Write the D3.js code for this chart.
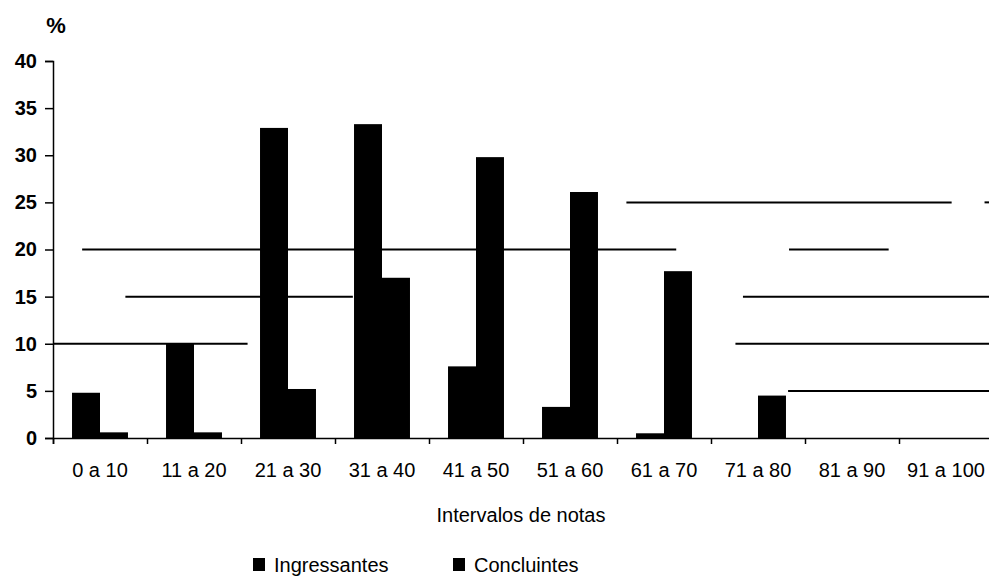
<!DOCTYPE html>
<html>
<head>
<meta charset="utf-8">
<script src="https://cdn.jsdelivr.net/npm/d3@7"></script>
<style>
  body { margin: 0; background: #fff; }
  svg { display: block; font-family: "Liberation Sans", Arial, sans-serif; }
</style>
</head>
<body>
<div id="chart"></div>
<script>
// categories and series
var categories = ["0 a 10", "11 a 20", "21 a 30", "31 a 40", "41 a 50",
                  "51 a 60", "61 a 70", "71 a 80", "81 a 90", "91 a 100"];
var seriesNames = ["Ingressantes", "Concluintes"];
var ingressantes = [4.8, 10, 32.9, 33.3, 7.6, 3.3, 0.5, 0, 0, 0];
var concluintes = [0.6, 0.6, 5.2, 17, 29.8, 26.1, 17.7, 4.5, 0, 0];
var yTicks = [0, 5, 10, 15, 20, 25, 30, 35, 40];
// what is left of the gridlines in the scan: [value, from, to] in category units
var gridPieces = [
  [5, 7.82, 10],
  [10, 0, 2.07], [10, 7.26, 10],
  [15, 0.77, 3.19], [15, 7.34, 10],
  [20, 0.31, 6.63], [20, 7.83, 8.89],
  [25, 6.10, 9.56], [25, 9.91, 10]
];

(function () {
  var W = 989, H = 576;
  var plotLeft = 53, plotRight = 993, plotTop = 61, plotBottom = 438;

  var svg = d3.select("#chart").append("svg")
    .attr("width", W)
    .attr("height", H);

  var x = d3.scaleBand().domain(categories).range([plotLeft, plotRight]).padding(0);
  var xc = d3.scaleLinear().domain([0, categories.length]).range([plotLeft, plotRight]);
  var xs = d3.scaleBand().domain(seriesNames).range([0, x.bandwidth()])
    .paddingInner(0).paddingOuter(0.68);
  var y = d3.scaleLinear().domain([0, 40]).range([plotBottom, plotTop]);

  //gridline pieces
  svg.append("g")
    .selectAll("line")
    .data(gridPieces)
    .enter()
    .append("line")
    .attr("x1", function(d){ return xc(d[1]); })
    .attr("x2", function(d){ return Math.min(xc(d[2]), W); })
    .attr("y1", function(d){ return y(d[0]); })
    .attr("y2", function(d){ return y(d[0]); })
    .attr("stroke", "#000")
    .attr("stroke-width", 2);

  //bars
  var rows = categories.map(function(c, i){
    return [{cat: c, s: "Ingressantes", v: ingressantes[i]},
            {cat: c, s: "Concluintes", v: concluintes[i]}];
  });
  svg.append("g")
    .selectAll("g")
    .data(rows)
    .enter()
    .append("g")
    .attr("transform", function(d){ return "translate(" + x(d[0].cat) + ",0)"; })
    .selectAll("rect")
    .data(function(d){ return d; })
    .enter()
    .append("rect")
    .attr("x", function(d){ return xs(d.s); })
    .attr("y", function(d){ return y(d.v); })
    .attr("width", xs.bandwidth())
    .attr("height", function(d){ return y(0) - y(d.v); })
    .attr("fill", "#000");

  //y axis
  var yAxis = svg.append("g")
    .attr("transform", "translate(" + plotLeft + ",0)")
    .call(d3.axisLeft(y).tickValues(yTicks).tickSize(8).tickPadding(8));
  yAxis.select(".domain").attr("stroke", "#000").attr("stroke-width", 1.5);
  yAxis.selectAll(".tick line").attr("stroke", "#000").attr("stroke-width", 1.5);
  yAxis.selectAll("text")
    .attr("font-size", 20)
    .attr("font-weight", "bold")
    .attr("fill", "#000")
    .attr("font-family", "Liberation Sans, Arial, sans-serif");

  //x axis, ticks between categories
  var xAxis = svg.append("g")
    .attr("transform", "translate(0," + plotBottom + ")")
    .call(d3.axisBottom(xc).tickValues(d3.range(categories.length + 1))
      .tickSize(6).tickFormat(""));
  xAxis.select(".domain").attr("stroke", "#000").attr("stroke-width", 1.5);
  xAxis.selectAll(".tick line").attr("stroke", "#000").attr("stroke-width", 1.5);

  svg.append("g")
    .selectAll("text")
    .data(categories)
    .enter()
    .append("text")
    .attr("x", function(d){ return x(d) + x.bandwidth() / 2; })
    .attr("y", 477)
    .attr("text-anchor", "middle")
    .attr("font-size", 20)
    .attr("fill", "#000")
    .text(function(d){ return d; });

  //titles
  svg.append("text")
    .attr("x", 56)
    .attr("y", 33)
    .attr("text-anchor", "middle")
    .attr("font-size", 22)
    .attr("font-weight", "bold")
    .text("%");

  svg.append("text")
    .attr("x", 521)
    .attr("y", 522)
    .attr("text-anchor", "middle")
    .attr("font-size", 20)
    .text("Intervalos de notas");

  //legend
  var legendX = [253, 453];
  var legend = svg.append("g").attr("class", "legend");
  legend.selectAll("rect")
    .data(seriesNames)
    .enter()
    .append("rect")
    .attr("x", function(d, i){ return legendX[i]; })
    .attr("y", 558)
    .attr("width", 12)
    .attr("height", 13)
    .attr("fill", "#000");
  legend.selectAll("text")
    .data(seriesNames)
    .enter()
    .append("text")
    .attr("x", function(d, i){ return legendX[i] + 21; })
    .attr("y", 572)
    .attr("font-size", 20)
    .attr("fill", "#000")
    .text(function(d){ return d; });
})();
</script>
</body>
</html>
